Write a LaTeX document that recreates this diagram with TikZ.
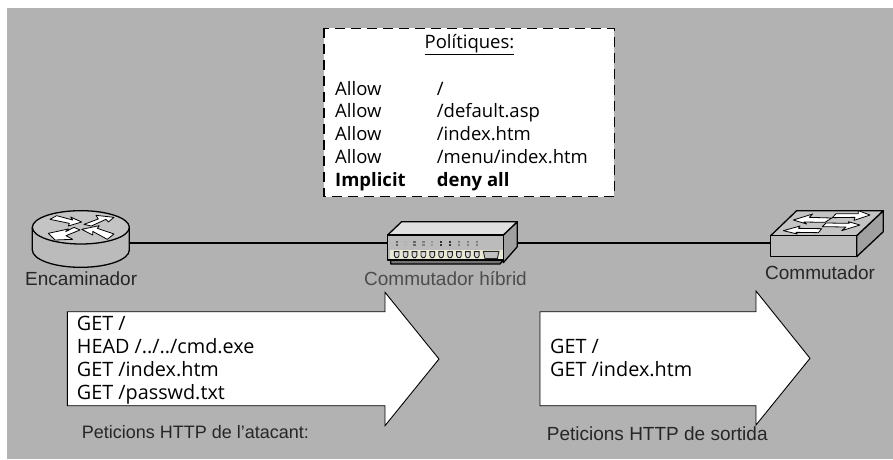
\documentclass[tikz,border=0pt]{standalone}
\usepackage{fontspec}
\setmainfont{Liberation Sans}
\newfontfamily\casual{Open Sans}
\definecolor{bggray}{HTML}{B2B2B2}
\definecolor{sidegray}{HTML}{A0A0A0}
\definecolor{bodygray}{HTML}{BBBBBB}
\definecolor{topgray}{HTML}{C4C4C4}
\definecolor{beige}{HTML}{E8E8D4}
\tikzset{
  label text/.style={anchor=base west,inner sep=0pt,font=\fontsize{19}{21}\selectfont,text=black!85},
  casual text/.style={anchor=base west,inner sep=0pt,font=\casual\fontsize{18.5}{21}\selectfont},
  request text/.style={anchor=base west,inner sep=0pt,font=\casual\fontsize{19.8}{22}\selectfont},
  big arrow/.style={draw=black,fill=white,line width=0.9pt,line join=miter},
  device/.style={inner sep=0pt,minimum height=1pt},
  dev line/.style={draw=black,line width=1.3pt,line join=round},
  flow/.style={draw=black,fill=white,line width=0.8pt,line join=round},
  link/.style={draw=black,line width=1.2pt},
}
\begin{document}
\begin{tikzpicture}[x=1pt,y=-1pt]
\useasboundingbox (0,0) rectangle (893,459);
\fill[white] (0,0) rectangle (893,459);
\fill[bggray] (7,8) rectangle (893,459);

% policy box
\draw[fill=white,draw=black,line width=1.5pt,dash pattern=on 10pt off 6pt] (324,28.3) rectangle (614.3,196.7);
\node[casual text,anchor=base] (title) at (469.5,48) {\underline{Polítiques:}};
\node[casual text] (a1) at (335,95) {Allow};
\node[casual text] (p1) at (436.7,95) {/};
\node[casual text] (a2) at (335,117.7) {Allow};
\node[casual text] (p2) at (436.7,117.7) {/default.asp};
\node[casual text] (a3) at (335,140.3) {Allow};
\node[casual text] (p3) at (436.7,140.3) {/index.htm};
\node[casual text] (a4) at (335,163.3) {Allow};
\node[casual text] (p4) at (436.7,163.3) {/menu/index.htm};
\node[casual text] (a5) at (335,186.7) {\bfseries Implicit};
\node[casual text] (p5) at (436.7,186.7) {\bfseries deny all};

% device anchors and links
\node[device,minimum width=97pt] (router) at (80.5,243) {};
\node[device,minimum width=130pt] (hub) at (452.5,243) {};
\node[device,minimum width=112.6pt] (switch) at (827,243) {};
\draw[link] (router.east) -- (hub.west);
\draw[link] (hub.east) -- (switch.west);

% router
\begin{scope}[shift={(0,190)},x=0.3333pt,y=-0.3333pt]
  \draw[dev line,fill=bodygray] (97,112) -- (97,180) arc[start angle=180,end angle=0,x radius=145.5,y radius=52] -- (388,112) -- cycle;
  \draw[dev line,fill=topgray] (242.5,112) ellipse[x radius=145.5,y radius=50];
  \draw[flow] (150,88) -- (170,77) -- (218,90) -- (212,81) -- (245,96) -- (205,108) -- (208,100) -- cycle;
  \draw[flow] (252,103) -- (295,87) -- (288,76) -- (342,82) -- (325,96) -- (318,88) -- (274,108) -- cycle;
  \draw[flow] (145,130) -- (205,117) -- (197,125) -- (222,112) -- (240,120) -- (198,137) -- (218,148) -- (165,150) -- cycle;
  \draw[flow] (245,118) -- (298,107) -- (292,115) -- (342,132) -- (322,148) -- (278,124) -- (278,135) -- cycle;
\end{scope}

% hub
\begin{scope}[shift={(360,210)},x=0.3333pt,y=-0.3333pt]
  \draw[dev line,fill=black!55] (92,150) -- (92,162) -- (420,162) -- (430,150) -- cycle;
  \draw[dev line,fill=sidegray] (430,75) -- (472,35) -- (472,110) -- (430,158) -- cycle;
  \draw[dev line,fill=black!12] (83,75) -- (125,35) -- (472,35) -- (430,75) -- cycle;
  \draw[dev line,fill=bodygray] (83,75) rectangle (430,150);
  \fill[beige] (90,120) rectangle (428,148);
  \foreach \i/\c in {0/60,1/30,2/60,3/50,4/40,5/80,6/80,7/50,8/50,9/50}{
    \pgfmathsetmacro\xx{110+26.7*\i}
    \fill[black!\c] (\xx-3.5,92) rectangle (\xx+3.5,98);
    \fill[black!\c] (\xx-3.5,102) rectangle (\xx+3.5,108);
    \draw[black!85,line width=0.9pt,fill=black!15] (\xx-7,125) -- (\xx+7,125) -- (\xx+7,137) -- (\xx+3,143) -- (\xx-3,143) -- (\xx-7,137) -- cycle;
  }
  \draw[black!85,line width=0.9pt,fill=black!25] (370,124) -- (417,124) -- (412,146) -- (375,146) -- cycle;
\end{scope}

% switch
\begin{scope}[shift={(740,190)},x=0.3333pt,y=-0.3333pt]
  \draw[dev line,fill=sidegray] (350,137) -- (430,62) -- (430,125) -- (350,200) -- cycle;
  \draw[dev line,fill=topgray] (92,137) -- (170,62) -- (430,62) -- (350,137) -- cycle;
  \draw[dev line,fill=bodygray] (92,137) rectangle (350,200);
  \draw[flow] (160,90) -- (218,72) -- (208,82) -- (275,84) -- (255,97) -- (192,96) -- (200,102) -- cycle;
  \draw[flow] (130,122) -- (180,108) -- (175,115) -- (245,116) -- (235,128) -- (168,127) -- (172,132) -- cycle;
  \draw[flow] (390,75) -- (355,62) -- (355,71) -- (288,71) -- (277,83) -- (345,82) -- (342,91) -- cycle;
  \draw[flow] (360,105) -- (325,95) -- (328,100) -- (258,99) -- (247,110) -- (318,111) -- (305,122) -- cycle;
\end{scope}

% device labels
\node[label text] (lrouter) at (25,285) {Encaminador};
\node[label text,text=black!70] (lhub) at (364,285) {Commutador híbrid};
\node[label text] (lswitch) at (765,279) {Commutador};

% big arrows
\draw[big arrow] (67.3,311.7) -- (385,311.7) -- (385,292.3) -- (439,359) -- (385,425.7) -- (385,405.7) -- (67.3,405.7) -- cycle;
\draw[big arrow] (540,311.7) -- (756,311.7) -- (756,291) -- (810,358.3) -- (756,425) -- (756,405.7) -- (540,405.7) -- cycle;

\node[request text] (g1) at (76.7,330) {GET /};
\node[request text] (g2) at (76.7,353.3) {HEAD /../../cmd.exe};
\node[request text] (g3) at (76.7,376.7) {GET /index.htm};
\node[request text] (g4) at (76.7,399) {GET /passwd.txt};
\node[request text] (o1) at (550,353) {GET /};
\node[request text] (o2) at (550,376.7) {GET /index.htm};

\node[label text,font=\fontsize{18}{20}\selectfont] (lin) at (81.7,438) {Peticions HTTP de l’atacant:};
\node[label text] (lout) at (546.7,440) {Peticions HTTP de sortida};
\end{tikzpicture}
\end{document}
